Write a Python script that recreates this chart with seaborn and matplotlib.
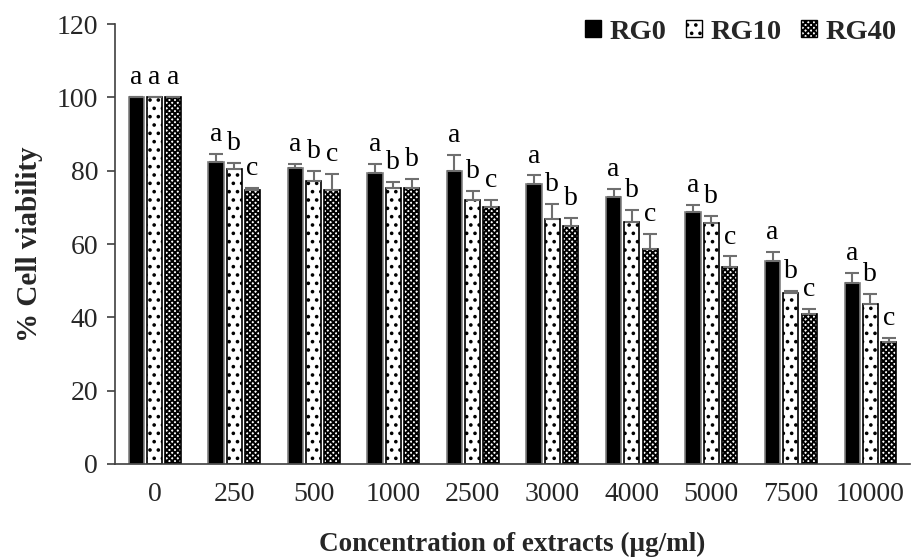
import matplotlib
matplotlib.use("Agg")
import matplotlib.pyplot as plt
from matplotlib.patches import Patch
import numpy as np
import pandas as pd
import seaborn as sns

# Concentrations (µg/ml) and cell viability (%) for the three extracts
concentrations = ["0", "250", "500", "1000", "2500", "3000", "4000", "5000", "7500", "10000"]
series_names = ["RG0", "RG10", "RG40"]

rg0_mean = [100, 82.5, 80.6, 79.5, 79.8, 76.3, 72.7, 68.8, 55.3, 49.4]
rg0_sd = [0, 2.1, 1.2, 2.4, 4.4, 2.4, 2.4, 1.9, 2.4, 2.7]
rg10_mean = [100, 80.4, 77.1, 75.4, 71.9, 66.9, 65.9, 65.6, 46.5, 43.6]
rg10_sd = [0, 1.7, 2.9, 1.5, 2.5, 4.1, 3.4, 2.1, 0.8, 2.8]
rg40_mean = [100, 74.6, 74.8, 75.4, 70.1, 64.8, 58.6, 53.7, 40.9, 33.3]
rg40_sd = [0, 0.8, 4.2, 2.4, 1.9, 2.3, 4.1, 2.9, 1.4, 1.0]

# Significance letters
rg0_letters = ["a", "a", "a", "a", "a", "a", "a", "a", "a", "a"]
rg10_letters = ["a", "b", "b", "b", "b", "b", "b", "b", "b", "b"]
rg40_letters = ["a", "c", "c", "b", "c", "b", "c", "c", "c", "c"]

means = {"RG0": rg0_mean, "RG10": rg10_mean, "RG40": rg40_mean}
sds = {"RG0": rg0_sd, "RG10": rg10_sd, "RG40": rg40_sd}
letters = {"RG0": rg0_letters, "RG10": rg10_letters, "RG40": rg40_letters}

df = pd.DataFrame({
    "conc": concentrations * 3,
    "series": np.repeat(series_names, len(concentrations)),
    "viability": rg0_mean + rg10_mean + rg40_mean,
})

sns.set_theme(style="white")
plt.rcParams["font.family"] = ["Liberation Serif", "DejaVu Serif"]
plt.rcParams["hatch.linewidth"] = 1.4

fig = plt.figure(figsize=(9.12, 5.59), dpi=100)
ax = fig.add_axes([0.126, 0.170, 0.872, 0.787])

styles = {
    "RG0": dict(face="black", edge="#7f7f7f", hatch=None),
    "RG10": dict(face="white", edge="black", hatch=".."),
    "RG40": dict(face="white", edge="black", hatch="xxxxxx"),
}

sns.barplot(data=df, x="conc", y="viability", hue="series", order=concentrations,
            hue_order=series_names, errorbar=None, width=0.69, gap=0.17,
            legend=False, ax=ax)

for name, container in zip(series_names, ax.containers):
    st = styles[name]
    xs, tops = [], []
    for patch in container:
        patch.set_facecolor(st["face"])
        patch.set_edgecolor(st["edge"])
        patch.set_linewidth(1.2)
        if st["hatch"]:
            patch.set_hatch(st["hatch"])
        xs.append(patch.get_x() + patch.get_width() / 2)
        tops.append(patch.get_height())
    xs = np.array(xs)
    tops = np.array(tops)
    err = np.array(sds[name])
    ax.errorbar(xs, tops, yerr=[np.zeros_like(err), err], fmt="none",
                ecolor="#6f6f6f", elinewidth=1.5, capsize=5, capthick=1.5, zorder=3)
    for x, top, e, lab in zip(xs, tops, err, letters[name]):
        ax.annotate(lab, (x, top + e), xytext=(0, 5), textcoords="offset points",
                    ha="center", va="bottom", fontsize=20, color="black")

ax.set_ylim(0, 120)
ax.set_xlim(-0.5, len(concentrations) - 0.5)
ax.set_yticks(range(0, 121, 20))
ax.tick_params(axis="y", which="major", direction="out", length=6, width=1.2,
               color="#404040", labelsize=20, pad=6, left=True)
ax.tick_params(axis="x", length=0, labelsize=20, pad=13)
for side in ["top", "right"]:
    ax.spines[side].set_visible(False)
for side in ["left", "bottom"]:
    ax.spines[side].set_color("#404040")
    ax.spines[side].set_linewidth(1.2)

ax.set_xlabel("Concentration of extracts (μg/ml)", fontsize=19.5, fontweight="bold", labelpad=18)
ax.set_ylabel("% Cell viability", fontsize=21, fontweight="bold", labelpad=10)

handles = [Patch(facecolor=styles[n]["face"], edgecolor="black",
                 hatch=styles[n]["hatch"], linewidth=1.0) for n in series_names]
fig.legend(handles, series_names, loc="upper right", bbox_to_anchor=(1.005, 1.0),
           ncol=3, frameon=False, handlelength=0.55, handleheight=0.55,
           handletextpad=0.3, columnspacing=0.7, borderaxespad=0.3,
           prop={"family": ["Liberation Serif"], "weight": "bold", "size": 20.5})

fig.savefig("out.png", dpi=100)
